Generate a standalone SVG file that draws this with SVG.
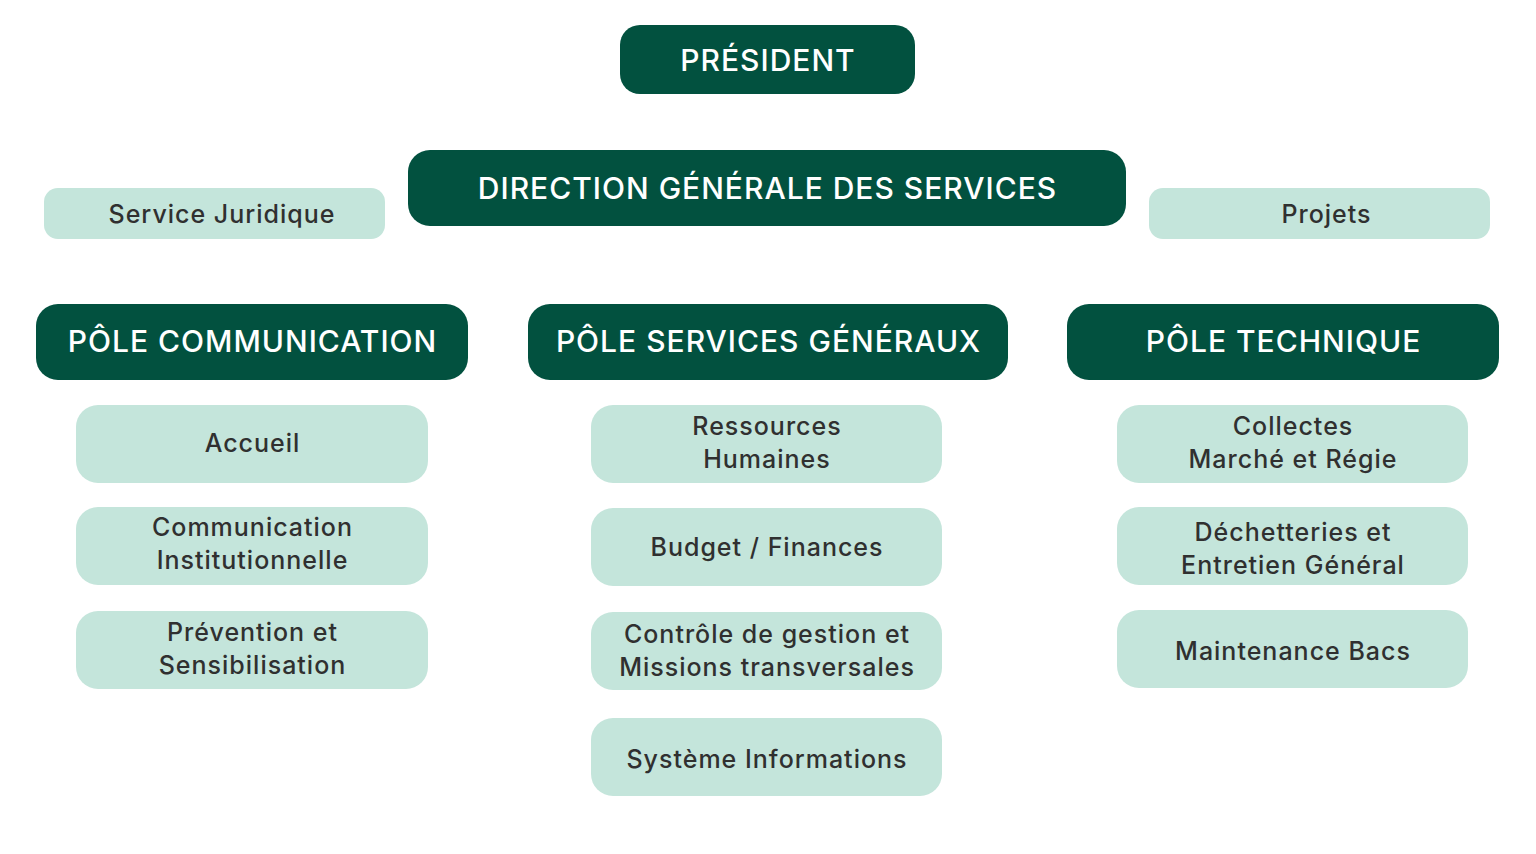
<svg xmlns="http://www.w3.org/2000/svg" width="1536" height="854" viewBox="0 0 1536 854">
<style>
.dark{fill:#02513F}
.light{fill:#C4E5DB}
.tw{font-family:Inter,"Noto Sans","Liberation Sans",sans-serif;font-weight:500;font-size:30px;fill:#FFFFFF;text-anchor:middle;letter-spacing:1px}
.tb{font-family:Inter,"Noto Sans","Liberation Sans",sans-serif;font-weight:500;font-size:25px;fill:#303030;text-anchor:middle;letter-spacing:1px}
</style>
<rect width="1536" height="854" fill="#FFFFFF"/>
<g id="connectors"></g>
<g id="president"><rect class="dark" x="620" y="25" width="295" height="69" rx="20"/><text class="tw" x="768" y="71">PRÉSIDENT</text></g>
<g id="dgs"><rect class="dark" x="408" y="150" width="718" height="76" rx="22"/><text class="tw" x="767.5" y="199">DIRECTION GÉNÉRALE DES SERVICES</text></g>
<g id="juridique"><rect class="light" x="44" y="188" width="341" height="51" rx="14"/><text class="tb" x="222" y="223">Service Juridique</text></g>
<g id="projets"><rect class="light" x="1149" y="188" width="341" height="51" rx="14"/><text class="tb" x="1326.5" y="223">Projets</text></g>
<g id="pole-communication"><rect class="dark" x="36" y="304" width="432" height="76" rx="22"/><text class="tw" x="252.5" y="352">PÔLE COMMUNICATION</text></g>
<g id="pole-services"><rect class="dark" x="528" y="304" width="480" height="76" rx="22"/><text class="tw" x="768.5" y="352">PÔLE SERVICES GÉNÉRAUX</text></g>
<g id="pole-technique"><rect class="dark" x="1067" y="304" width="432" height="76" rx="22"/><text class="tw" x="1283.5" y="352">PÔLE TECHNIQUE</text></g>
<g id="accueil"><rect class="light" x="76" y="405" width="352" height="78" rx="22"/><text class="tb" x="252.5" y="452">Accueil</text></g>
<g id="communication-inst"><rect class="light" x="76" y="507" width="352" height="78" rx="22"/><text class="tb" x="252.5" y="536">Communication</text><text class="tb" x="252.5" y="569">Institutionnelle</text></g>
<g id="prevention"><rect class="light" x="76" y="611" width="352" height="78" rx="22"/><text class="tb" x="252.5" y="641">Prévention et</text><text class="tb" x="252.5" y="674">Sensibilisation</text></g>
<g id="rh"><rect class="light" x="591" y="405" width="351" height="78" rx="22"/><text class="tb" x="767" y="435">Ressources</text><text class="tb" x="767" y="468">Humaines</text></g>
<g id="budget"><rect class="light" x="591" y="508" width="351" height="78" rx="22"/><text class="tb" x="767" y="556">Budget / Finances</text></g>
<g id="controle"><rect class="light" x="591" y="612" width="351" height="78" rx="22"/><text class="tb" x="767" y="643">Contrôle de gestion et</text><text class="tb" x="767" y="676">Missions transversales</text></g>
<g id="systeme"><rect class="light" x="591" y="718" width="351" height="78" rx="22"/><text class="tb" x="767" y="768">Système Informations</text></g>
<g id="collectes"><rect class="light" x="1117" y="405" width="351" height="78" rx="22"/><text class="tb" x="1293" y="435">Collectes</text><text class="tb" x="1293" y="468">Marché et Régie</text></g>
<g id="dechetteries"><rect class="light" x="1117" y="507" width="351" height="78" rx="22"/><text class="tb" x="1293" y="541">Déchetteries et</text><text class="tb" x="1293" y="574">Entretien Général</text></g>
<g id="maintenance"><rect class="light" x="1117" y="610" width="351" height="78" rx="22"/><text class="tb" x="1293" y="660">Maintenance Bacs</text></g>
</svg>
